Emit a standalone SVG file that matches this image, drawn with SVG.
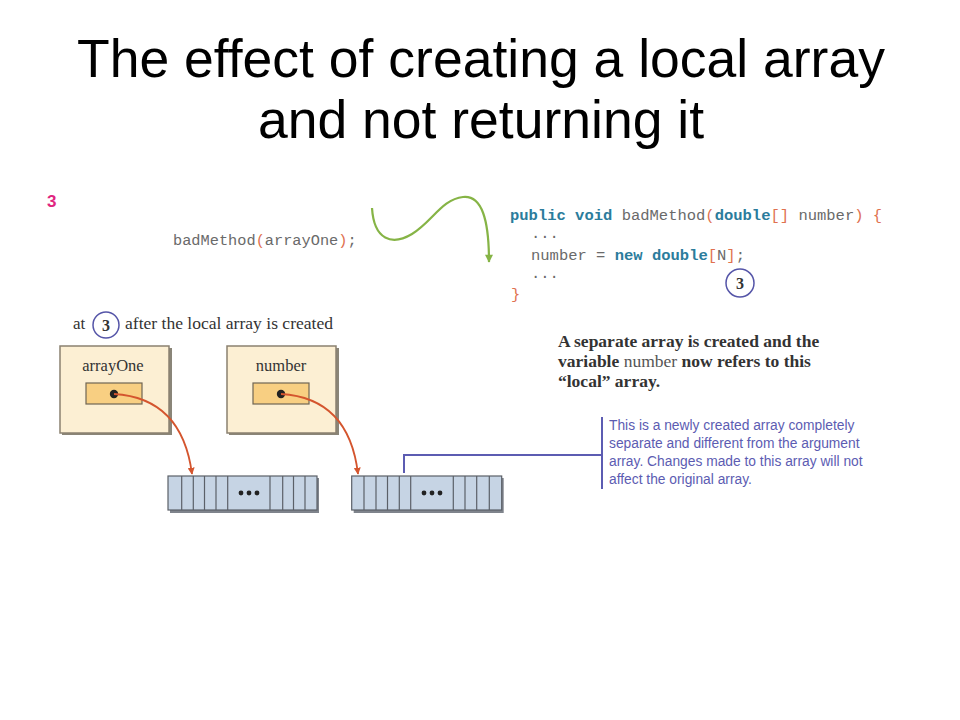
<svg xmlns="http://www.w3.org/2000/svg" width="960" height="720" viewBox="0 0 960 720">
<defs>
<style>
.title{font-family:"Liberation Sans",Arial,sans-serif;font-size:53.5px;fill:#000;text-anchor:middle}
.code{font-family:"Liberation Mono","Courier New",monospace;font-size:15.5px;fill:#6a6a6a}
.kw{fill:#2b7c9c;font-weight:bold}
.pn{fill:#e0714f}
.serif{font-family:"Liberation Serif","Times New Roman",serif;fill:#333}
.note{font-family:"Liberation Sans",Arial,sans-serif;font-size:13.8px;fill:#5c5cb2}
.var{fill:#fcefd3;stroke:#8b8170;stroke-width:1.5}
.slot{fill:#f8cf82;stroke:#6f6554;stroke-width:1.2}
.arr{fill:#c6d4e4;stroke:#5b6068;stroke-width:1.2}
.cell{stroke:#5b6068;stroke-width:1.2}
.ref{fill:none;stroke:#d4552e;stroke-width:1.8}
.num{fill:#fff;stroke:#5555a8;stroke-width:1.5}
.numt{font-family:"Liberation Serif","Times New Roman",serif;font-weight:bold;font-size:16px;fill:#333;text-anchor:middle}
</style>
<marker id="redhead" viewBox="0 0 10 10" refX="9" refY="5" markerWidth="7" markerHeight="7" orient="auto" markerUnits="userSpaceOnUse">
<path d="M0,0 L10,5 L0,10 z" fill="#d4552e"/>
</marker>
<marker id="greenhead" viewBox="0 0 10 10" refX="9" refY="5" markerWidth="9" markerHeight="8" orient="auto" markerUnits="userSpaceOnUse">
<path d="M0,0 L10,5 L0,10 z" fill="#86b446"/>
</marker>
</defs>
<rect width="960" height="720" fill="#fff"/>

<g id="title">
<text class="title" x="481" y="77">The effect of creating a local array</text>
<text class="title" x="481" y="138">and not returning it</text>
</g>

<g id="step">
<text x="47" y="207" font-family="Liberation Sans,Arial,sans-serif" font-weight="bold" font-size="17" fill="#e0267f">3</text>
</g>

<g id="call">
<text class="code" x="173" y="245" style="font-size:15.3px">badMethod<tspan class="pn">(</tspan>arrayOne<tspan class="pn">)</tspan>;</text>
</g>

<g id="method">
<text class="code" x="510" y="220"><tspan class="kw">public void</tspan> badMethod<tspan class="pn">(</tspan><tspan class="kw">double</tspan><tspan class="pn">[]</tspan> number<tspan class="pn">)</tspan> <tspan class="pn">{</tspan></text>
<text class="code" x="531" y="238">...</text>
<text class="code" x="531" y="260">number = <tspan class="kw">new double</tspan><tspan class="pn">[</tspan>N<tspan class="pn">]</tspan>;</text>
<text class="code" x="531" y="278">...</text>
<text class="code" x="511" y="299"><tspan class="pn">}</tspan></text>
<circle class="num" cx="740" cy="283" r="14"/>
<text class="numt" x="740" y="289">3</text>
</g>

<g id="caption">
<text class="serif" x="73" y="329" font-size="17">at</text>
<circle class="num" cx="106" cy="325" r="13"/>
<text class="numt" x="106" y="331">3</text>
<text class="serif" x="125" y="329" font-size="17" textLength="208" lengthAdjust="spacingAndGlyphs">after the local array is created</text>
</g>

<g id="arrayOne">
<rect x="62" y="348" width="110" height="87" fill="#8a8578"/>
<rect class="var" x="60" y="346" width="109" height="87"/>
<text class="serif" x="113" y="371" font-size="16.5" text-anchor="middle" fill="#444">arrayOne</text>
<rect class="slot" x="86" y="383" width="56" height="21"/>
<circle cx="114" cy="394" r="4.2" fill="#222"/>
</g>

<g id="number">
<rect x="229" y="348" width="110" height="87" fill="#8a8578"/>
<rect class="var" x="227" y="346" width="109" height="87"/>
<text class="serif" x="281" y="371" font-size="16.5" text-anchor="middle" fill="#444">number</text>
<rect class="slot" x="253" y="383" width="56" height="21"/>
<circle cx="281" cy="394" r="4.2" fill="#222"/>
</g>

<g id="array1">
<rect x="170" y="478" width="149" height="35" fill="#7f848c"/>
<rect class="arr" x="168" y="476" width="149" height="34"/>
<g class="cell">
<line x1="181.7" y1="476" x2="181.7" y2="510"/>
<line x1="193.3" y1="476" x2="193.3" y2="510"/>
<line x1="204.5" y1="476" x2="204.5" y2="510"/>
<line x1="216" y1="476" x2="216" y2="510"/>
<line x1="227.7" y1="476" x2="227.7" y2="510"/>
<line x1="270" y1="476" x2="270" y2="510"/>
<line x1="282.7" y1="476" x2="282.7" y2="510"/>
<line x1="293.5" y1="476" x2="293.5" y2="510"/>
<line x1="305" y1="476" x2="305" y2="510"/>
</g>
<circle cx="241" cy="493" r="2.4" fill="#222"/>
<circle cx="249" cy="493" r="2.4" fill="#222"/>
<circle cx="257" cy="493" r="2.4" fill="#222"/>
</g>

<g id="array2">
<rect x="353.7" y="478" width="150" height="35" fill="#7f848c"/>
<rect class="arr" x="351.7" y="476" width="150" height="34"/>
<g class="cell">
<line x1="364" y1="476" x2="364" y2="510"/>
<line x1="376" y1="476" x2="376" y2="510"/>
<line x1="387.5" y1="476" x2="387.5" y2="510"/>
<line x1="399.3" y1="476" x2="399.3" y2="510"/>
<line x1="410.7" y1="476" x2="410.7" y2="510"/>
<line x1="453.3" y1="476" x2="453.3" y2="510"/>
<line x1="465" y1="476" x2="465" y2="510"/>
<line x1="476.7" y1="476" x2="476.7" y2="510"/>
<line x1="489.3" y1="476" x2="489.3" y2="510"/>
</g>
<circle cx="424" cy="493" r="2.4" fill="#222"/>
<circle cx="432" cy="493" r="2.4" fill="#222"/>
<circle cx="440" cy="493" r="2.4" fill="#222"/>
</g>

<g id="explain">
<text class="serif" font-size="17.5" font-weight="bold" fill="#333">
<tspan x="558" y="347">A separate array is created and the</tspan>
<tspan x="558" y="367">variable <tspan font-weight="normal" fill="#555">number</tspan> now refers to this</tspan>
<tspan x="558" y="387">“local” array.</tspan>
</text>
</g>

<g id="note">
<text class="note">
<tspan x="609" y="430">This is a newly created array completely</tspan>
<tspan x="609" y="448">separate and different from the argument</tspan>
<tspan x="609" y="466">array. Changes made to this array will not</tspan>
<tspan x="609" y="484">affect the original array.</tspan>
</text>
</g>

<g id="connectors">
<path d="M372,208 C374,240 392,246 412,234 C432,222 442,199 463,197 C482,195 489,220 489,262" fill="none" stroke="#86b446" stroke-width="2.2" marker-end="url(#greenhead)"/>
<path class="ref" d="M114,394 Q182,398 192,474" marker-end="url(#redhead)"/>
<path class="ref" d="M281,394 Q349,398 358,474" marker-end="url(#redhead)"/>
<polyline points="404,473 404,455 602,455" fill="none" stroke="#5c5cb2" stroke-width="2"/>
<line x1="602" y1="417" x2="602" y2="489" stroke="#5c5cb2" stroke-width="2"/>
</g>
</svg>
